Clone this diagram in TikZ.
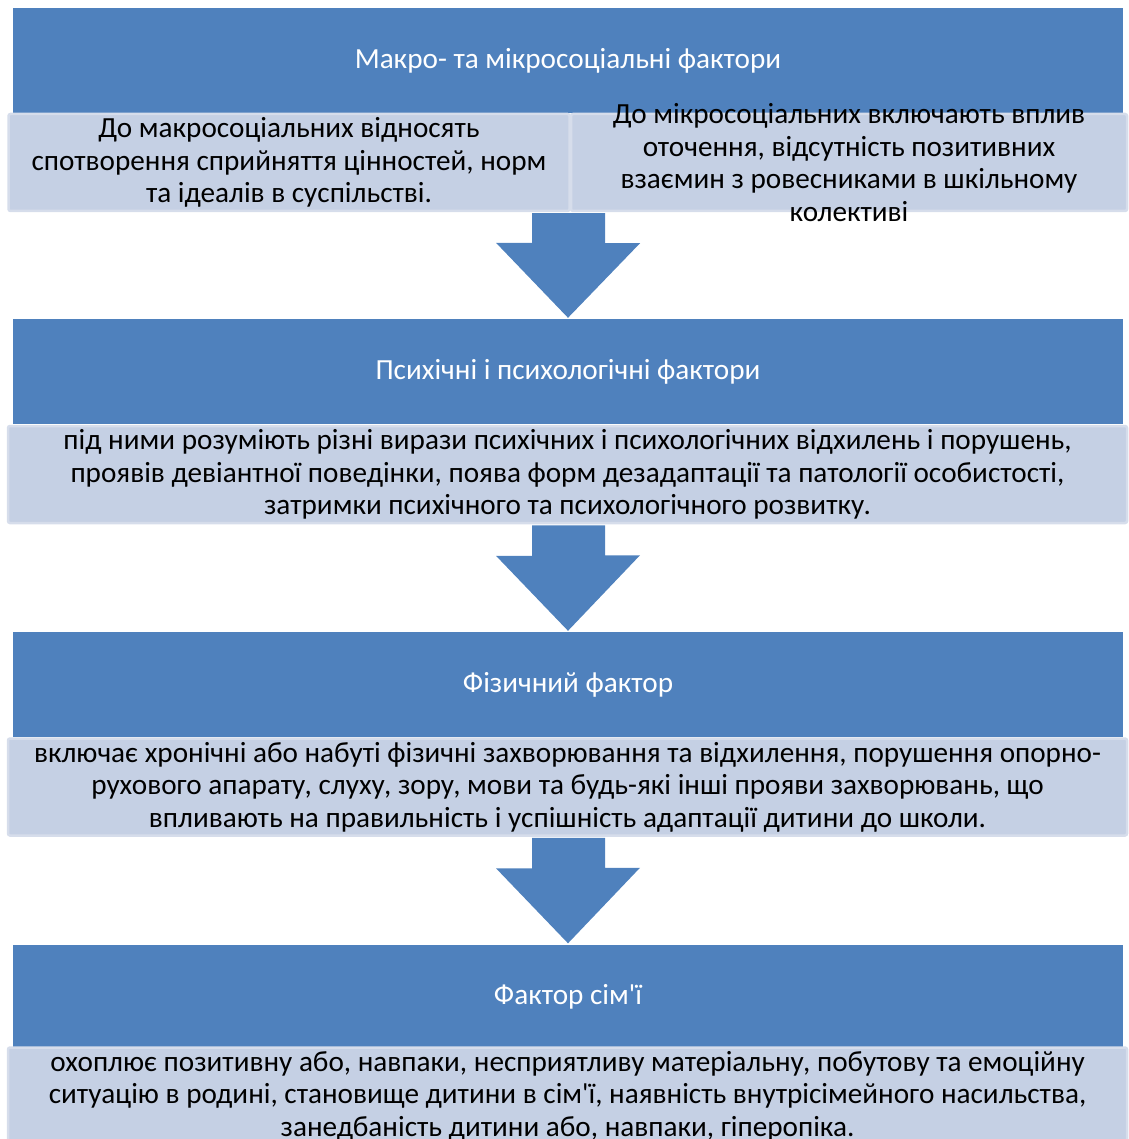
\documentclass[tikz,border=0pt]{standalone}
\usepackage{fontspec}
\setmainfont{Carlito}
\usetikzlibrary{calc}

\definecolor{headblue}{RGB}{79,129,189}
\definecolor{notefill}{RGB}{197,208,228}
\definecolor{noteedge}{RGB}{214,221,235}

\tikzset{
  headbox/.style={fill=headblue, minimum width=1110, minimum height=105,
    inner sep=0pt, text=white, font=\fontsize{29.2}{32.5}\selectfont},
  notebox/.style={fill=notefill, draw=noteedge, line width=2.5pt,
    rounded corners=2pt, minimum height=97, inner sep=0pt, align=center,
    font=\fontsize{29.2}{32.5}\selectfont},
  notetext/.style={inner sep=0pt, align=center,
    font=\fontsize{29.2}{32.5}\selectfont},
  downarrow/.style={fill=headblue}
}

\begin{document}
\begin{tikzpicture}[x=1pt,y=-1pt]
  \useasboundingbox (0,0) rectangle (1128,1139);
  % headers
  \node[headbox] (h1) at (568,60.5) {Макро- та мікросоціальні фактори};
  \node[headbox] (h2) at (568,371.5) {Психічні і психологічні фактори};
  \node[headbox] (h3) at (568,684.5) {Фізичний фактор};
  \node[headbox] (h4) at (568,997) {Фактор сім\textquotesingle ї};
  % notes
  \node[notebox, minimum width=561] (n1a) at (289,162.5)
    {До макросоціальних відносять\\спотворення сприйняття цінностей, норм\\та ідеалів в суспільстві.};
  \node[notebox, minimum width=556] (n1b) at (849,162.5) {};
  \node[notetext] (n1btext) at (n1b)
    {До мікросоціальних включають вплив\\оточення, відсутність позитивних\\взаємин з ровесниками в шкільному\\колективі};
  \node[notebox, minimum width=1119] (n2) at (567.5,474.5)
    {під ними розуміють різні вирази психічних і психологічних відхилень і порушень,\\проявів девіантної поведінки, поява форм дезадаптації та патології особистості,\\затримки психічного та психологічного розвитку.};
  \node[notebox, minimum width=1119] (n3) at (567.5,787)
    {включає хронічні або набуті фізичні захворювання та відхилення, порушення опорно-\\рухового апарату, слуху, зору, мови та будь-які інші прояви захворювань, що\\впливають на правильність і успішність адаптації дитини до школи.};
  \node[notebox, minimum width=1119] (n4) at (567.5,1096)
    {охоплює позитивну або, навпаки, несприятливу матеріальну, побутову та емоційну\\ситуацію в родині, становище дитини в сім\textquotesingle ї, наявність внутрісімейного насильства,\\занедбаність дитини або, навпаки, гіперопіка.};
  % arrows
  \foreach \from/\to in {n1a/h2,n2/h3,n3/h4} {
    \fill[downarrow] ($(\to.north |- \from.south)+(-36,1)$) -- ++(73,0) -- ++(0,30)
      -- ++(35,0) -- ($(\to.north)+(0,-1)$) -- ++(-72,-75) -- ++(36,0) -- cycle;
  }
\end{tikzpicture}
\end{document}
